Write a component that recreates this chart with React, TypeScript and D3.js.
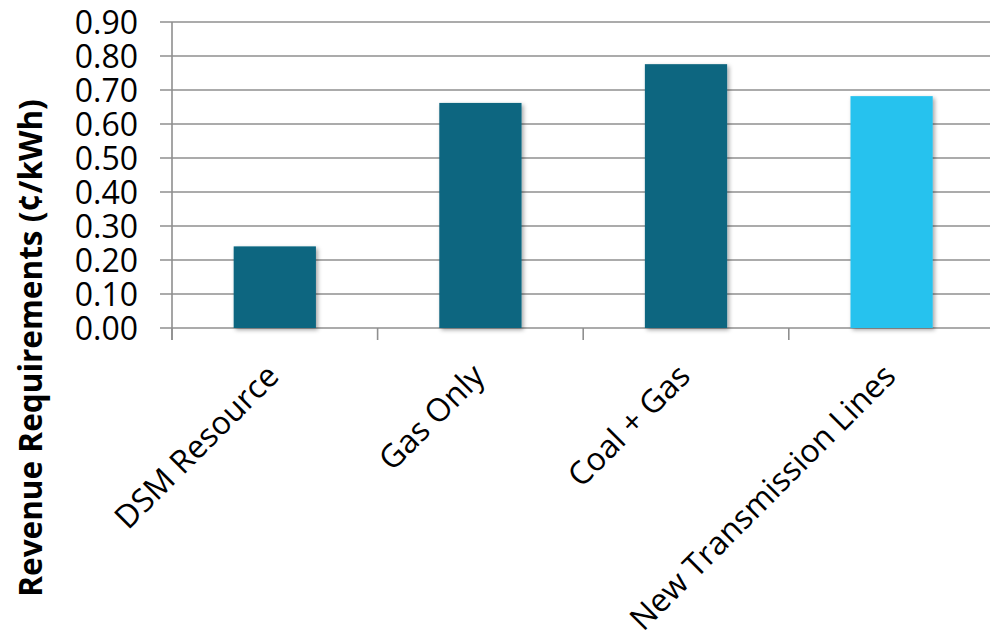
import React from "react";
import * as d3 from "d3";

const categories = ["DSM Resource", "Gas Only", "Coal + Gas", "New Transmission Lines"];
const values = [0.24, 0.662, 0.776, 0.682];
const barColors = ["#0b6680", "#0b6680", "#0b6680", "#28c2ee"];
const yTicks = [0, 0.1, 0.2, 0.3, 0.4, 0.5, 0.6, 0.7, 0.8, 0.9];
const yTitle = "Revenue Requirements (¢/kWh)";

const W = 990;
const H = 633;
const plotLeft = 172;
const plotRight = 994.4;
const plotTop = 22;
const plotBottom = 328;

export default function App() {
  const x = d3
    .scaleBand<string>()
    .domain(categories)
    .range([plotLeft, plotRight])
    .paddingInner(0.6)
    .paddingOuter(0.3);
  const y = d3.scaleLinear().domain([0, 0.9]).range([plotBottom, plotTop]);
  const step = x.step();
  const tickXs = d3.range(categories.length + 1).map((i) => plotLeft + i * step);
  const gridColor = "#8f8f8f";

  return (
    <svg
      width={W}
      height={H}
      style={{ position: "absolute", left: 0, top: 0, background: "#fff" }}
    >
      <defs>
        <filter id="shadow" x="-20%" y="-10%" width="140%" height="120%">
          <feDropShadow dx="2" dy="2" stdDeviation="2" floodColor="#000" floodOpacity="0.35" />
        </filter>
      </defs>
      {yTicks.map((t) => (
        <line
          key={"g" + t}
          x1={160}
          x2={W}
          y1={y(t)}
          y2={y(t)}
          stroke={gridColor}
          strokeWidth={1.6}
        />
      ))}
      <line x1={plotLeft} x2={plotLeft} y1={plotTop} y2={plotBottom + 12} stroke={gridColor} strokeWidth={1.6} />
      {tickXs.map((tx, i) => (
        <line key={"t" + i} x1={tx} x2={tx} y1={plotBottom} y2={plotBottom + 12} stroke={gridColor} strokeWidth={1.6} />
      ))}
      {yTicks.map((t) => (
        <text
          key={"l" + t}
          x={138}
          y={y(t)}
          dy="0.36em"
          textAnchor="end"
          fontFamily="'Open Sans', sans-serif"
          fontSize={32}
          fill="#000"
        >
          {t.toFixed(2)}
        </text>
      ))}
      {categories.map((c, i) => (
        <rect
          key={"b" + c}
          x={x(c)}
          y={y(values[i])}
          width={x.bandwidth()}
          height={y(0) - y(values[i])}
          fill={barColors[i]}
          filter="url(#shadow)"
        />
      ))}
      {categories.map((c) => {
        const cx = (x(c) as number) + x.bandwidth() / 2;
        const ax = cx + 6;
        const ay = 378;
        return (
          <text
            key={"c" + c}
            x={ax}
            y={ay}
            textAnchor="end"
            transform={`rotate(-45 ${ax} ${ay})`}
            fontFamily="'Open Sans', sans-serif"
            fontSize={32}
            fill="#000"
          >
            {c}
          </text>
        );
      })}
      <text
        x={0}
        y={0}
        transform={`translate(42 348) rotate(-90)`}
        textAnchor="middle"
        fontFamily="'Open Sans', sans-serif"
        fontWeight="bold"
        fontSize={31.5}
        fill="#000"
      >
        {yTitle}
      </text>
    </svg>
  );
}
